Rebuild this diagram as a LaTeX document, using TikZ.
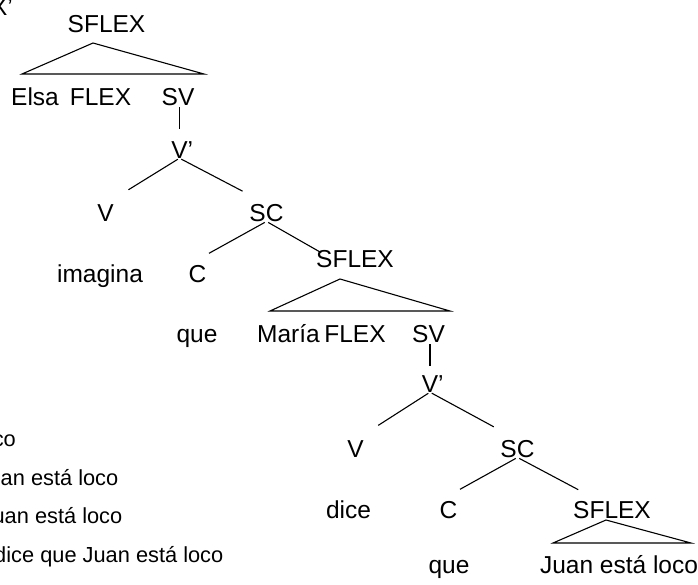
\documentclass[tikz,border=0pt]{standalone}
\usepackage{fontspec}
\setmainfont{Liberation Sans}
\usepackage{tikz}
\usetikzlibrary{calc}
\tikzset{
  phrase/.style={inner sep=0pt, anchor=base, font=\fontsize{24.5}{29}\selectfont},
  gloss/.style={inner sep=0pt, anchor=base east, font=\fontsize{21.8}{26}\selectfont},
  branch/.style={line width=1.1pt, shorten <=2pt},
  vbranch/.style={branch, shorten >=27pt},
  cbranch/.style={branch, shorten >=23.5pt},
  roof/.style={line width=1.1pt, line join=miter}
}

\begin{document}
\begin{tikzpicture}[x=1pt, y=-1pt]
  \useasboundingbox (0,0) rectangle (698,584);
  \clip (0,0) rectangle (698,584);

  \node[phrase, anchor=base east] (prev) at (13,15.5) {X’};
  \node[phrase] (sflexA) at (106.5,32) {SFLEX};
  \node[phrase] (elsa) at (35,105) {Elsa};
  \node[phrase] (flexA) at (100.5,105) {FLEX};
  \node[phrase] (svA) at (178,105) {SV};
  \node[phrase] (vbarA) at (179.5,158) {V\rlap{’}};
  \node[phrase] (vA) at (105.5,221) {V};
  \node[phrase] (scA) at (266.5,221) {SC};
  \node[phrase] (imagina) at (100,282) {imagina};
  \node[phrase] (cA) at (197.5,282) {C};
  \node[phrase] (sflexB) at (355,267) {SFLEX};
  \node[phrase] (queA) at (197,342) {que};
  \node[phrase] (maria) at (288.5,342) {María};
  \node[phrase] (flexB) at (355,342) {FLEX};
  \node[phrase] (svB) at (428.5,342) {SV};
  \node[phrase] (vbarB) at (430,392) {V\rlap{’}};
  \node[phrase] (vB) at (355.5,457) {V};
  \node[phrase] (scB) at (517.5,457) {SC};
  \node[phrase] (dice) at (348.5,518) {dice};
  \node[phrase] (cB) at (448.5,518) {C};
  \node[phrase] (sflexC) at (612,518) {SFLEX};
  \node[phrase] (queB) at (449,573) {que};
  \node[phrase] (juan) at (619,573) {Juan está loco};

  \node[gloss] (exA) at (16,446) {co};
  \node[gloss] (exB) at (118.5,485) {an está loco};
  \node[gloss] (exC) at (122.5,523) {uan está loco};
  \node[gloss] (exD) at (223.5,562) {dice que Juan está loco};

  \coordinate (roofA) at (93,43);
  \coordinate (roofAl) at (22,74);
  \coordinate (roofAr) at (204,74);
  \coordinate (roofB) at (340,279);
  \coordinate (roofBl) at (270,311);
  \coordinate (roofBr) at (450,311);
  \coordinate (roofC) at (606,520);
  \coordinate (roofCl) at (553,543);
  \coordinate (roofCr) at (691,543);
  \draw[roof] (roofA) -- (roofAl) -- (roofAr) -- cycle;
  \draw[roof] (roofB) -- (roofBl) -- (roofBr) -- cycle;
  \draw[roof] (roofC) -- (roofCl) -- (roofCr) -- cycle;

  \draw[branch, shorten >=11.5pt] (vbarA.north |- svA.south) -- (vbarA.north);
  \draw[vbranch] (vbarA.south) -- (vA.north);
  \draw[vbranch] (vbarA.south) -- (scA.north);
  \draw[cbranch] (scA.south) -- (cA.north west);
  \draw[branch, shorten >=-6pt] (scA.south) -- (sflexB.north west);

  \draw[branch, shorten >=8.5pt] (vbarB.north |- svB.south) -- (vbarB.north);
  \draw[vbranch] (vbarB.south) -- (vB.north);
  \draw[vbranch] (vbarB.south) -- (scB.north);
  \draw[cbranch] (scB.south) -- (cB.north west);
  \draw[cbranch] (scB.south) -- ([xshift=-13pt]sflexC.north);
\end{tikzpicture}
\end{document}
